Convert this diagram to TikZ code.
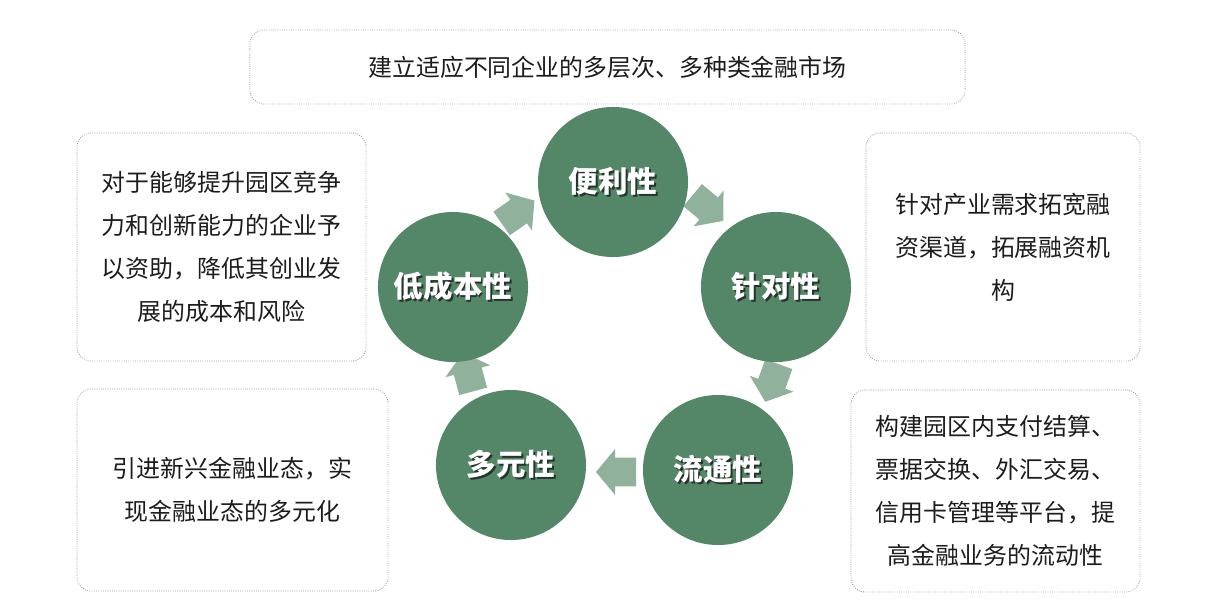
\documentclass[tikz,border=0pt]{standalone}
\usepackage{fontspec}
\setmainfont{Noto Sans CJK SC}
\usepackage{tikz}
\usetikzlibrary{calc}
\usepackage{xcolor}
\definecolor{ringgreen}{HTML}{548767}
\definecolor{framegray}{HTML}{96A0A0}
\definecolor{shadegray}{HTML}{26352B}
\definecolor{inkblack}{HTML}{1C1C1C}
\newcommand{\shadowtext}[1]{\rlap{\kern1.3pt\raisebox{-1.3pt}{\color{shadegray}#1}}#1}

\begin{document}
\begin{tikzpicture}[
  x=0.025cm, y=-0.025cm,
  hub/.style={circle, fill=ringgreen, minimum size=3.75cm, inner sep=0pt,
    text=white, font=\fontsize{21}{24}\selectfont\bfseries},
  note/.style={draw=framegray, densely dotted, line width=0.6pt,
    rounded corners=0.35cm, align=center, text=inkblack, inner sep=0pt,
    font=\fontsize{17}{30.6}\selectfont},
  blockarr/.pic={
    \fill[ringgreen, fill opacity=0.65]
      (-0.5cm,-0.36cm) -- (0.02cm,-0.36cm) -- (0.02cm,-0.58cm) -- (0.5cm,0)
      -- (0.02cm,0.58cm) -- (0.02cm,0.36cm) -- (-0.5cm,0.36cm) -- cycle;
  }
]
  \useasboundingbox (0,0) rectangle (1231,606);

  % Top note
  \node[note, minimum width=17.875cm, minimum height=1.85cm] (market) at (607.5,67)
    {建立适应不同企业的多层次、多种类金融市场};

  % Side notes
  \node[note, minimum width=7.225cm, minimum height=5.7cm] (aid) at (221.5,247)
    {对于能够提升园区竞争\\力和创新能力的企业予\\以资助，降低其创业发\\展的成本和风险};
  \node[note, minimum width=7.775cm, minimum height=5.05cm] (novel) at (232.5,490)
    {引进新兴金融业态，实\\现金融业态的多元化};
  \node[note, minimum width=6.85cm, minimum height=5.7cm] (channel) at (1003,247)
    {针对产业需求拓宽融\\资渠道，拓展融资机\\构};
  \node[note, minimum width=7.225cm, minimum height=5.05cm] (platform) at (995.5,491)
    {构建园区内支付结算、\\票据交换、外汇交易、\\信用卡管理等平台，提\\高金融业务的流动性};

  % Ring of circles
  \foreach \id/\x/\y/\lbl in {conv/613/182/便利性, focus/776/287/针对性,
      flow/718/470/流通性, multi/511/465/多元性, low/453/287/低成本性}
    \node[hub] (\id) at (\x,\y) {\shadowtext{\lbl}};

  % Block arrows between circles
  \pic[rotate=35] (arrA) at (518,212) {blockarr};
  \pic[rotate=-40] (arrB) at (708,208) {blockarr};
  \pic[rotate=-110] (arrC) at (772,383) {blockarr};
  \pic[rotate=180] (arrD) at (616,472) {blockarr};
  \pic[rotate=105] (arrE) at (468,372) {blockarr};
\end{tikzpicture}
\end{document}
